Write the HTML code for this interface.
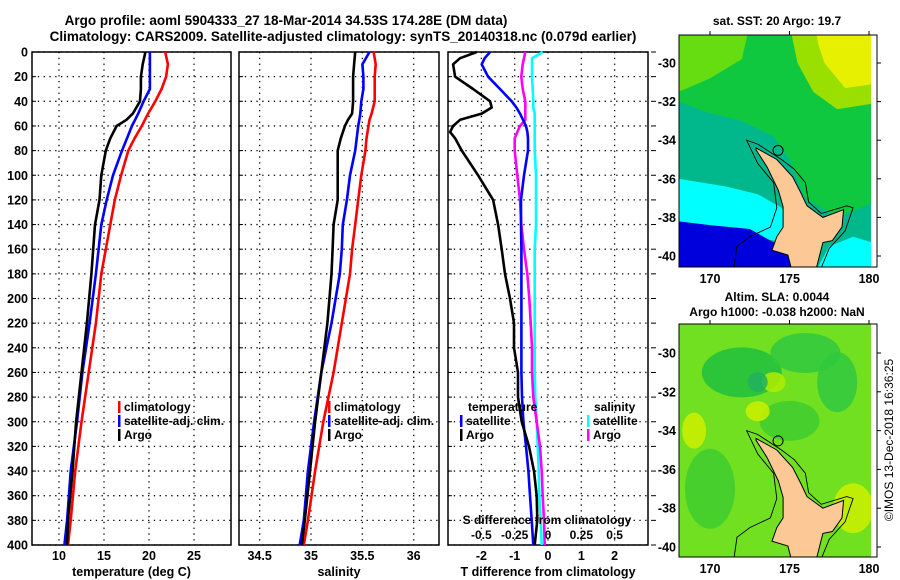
<!DOCTYPE html>
<html><head><meta charset="utf-8">
<style>
html,body{margin:0;padding:0;background:#fff;}
svg{display:block;font-family:"Liberation Sans",sans-serif;font-weight:bold;}
</style></head>
<body>
<svg id="chart" width="900" height="580" viewBox="0 0 900 580" xmlns="http://www.w3.org/2000/svg">
<rect width="900" height="580" fill="#fff"/>
<text x="286" y="25" font-size="13.5" text-anchor="middle">Argo profile: aoml 5904333_27 18-Mar-2014 34.53S 174.28E (DM data)</text>
<text x="343" y="41" font-size="13.5" text-anchor="middle">Climatology: CARS2009. Satellite-adjusted climatology: synTS_20140318.nc (0.079d earlier)</text>
<g id="g1"></g>
<g id="g2"></g>
<g id="g3"></g>
<g id="m1"></g>
<g id="m2"></g>
<text x="777" y="25" font-size="12" text-anchor="middle">sat. SST: 20 Argo: 19.7</text>
<text x="777" y="301" font-size="12" text-anchor="middle">Altim. SLA: 0.0044</text>
<text x="777" y="316" font-size="12" text-anchor="middle">Argo h1000: -0.038 h2000: NaN</text>
<text transform="translate(893,440) rotate(-90)" font-size="12" font-weight="normal" text-anchor="middle">©IMOS 13-Dec-2018 16:36:25</text>
</svg>
<script>
// ---- data ----
const depthTS = [0,10,20,30,40,50,55,60,70,80,100,120,140,160,180,220,260,300,340,380,400];
const tempClim = [21.8,22.1,21.9,21.4,20.7,19.9,19.55,19.2,18.4,17.7,16.9,16.2,15.7,15.2,14.7,14.1,13.3,12.5,11.8,11.3,11.0];
const tempSat = [20.1,20.1,20.1,20.1,19.4,18.8,18.45,18.1,17.55,17.0,16.0,15.3,14.7,14.4,14.1,13.4,12.6,12.0,11.3,10.9,10.6];
const tempArgo = [19.6,19.3,19.1,19.1,19.0,18.2,17.5,16.4,15.7,15.2,14.7,14.5,14.0,13.8,13.6,13.1,12.5,11.9,11.5,11.0,10.9];
const salClim = [35.61,35.63,35.62,35.62,35.62,35.59,35.57,35.56,35.54,35.53,35.49,35.46,35.43,35.40,35.38,35.30,35.22,35.12,35.04,34.97,34.93];
const salSat = [35.57,35.50,35.51,35.51,35.49,35.48,35.47,35.46,35.445,35.43,35.38,35.35,35.31,35.30,35.28,35.20,35.10,35.03,34.97,34.93,34.89];
const salArgo = [35.43,35.42,35.41,35.41,35.41,35.40,35.36,35.33,35.29,35.26,35.26,35.26,35.22,35.21,35.20,35.16,35.10,35.04,34.99,34.94,34.91];
const depthDiff = [0,5,10,20,30,40,45,50,55,60,65,70,80,100,120,140,160,180,200,220,240,260,280,300,320,340,360,380,400];
const tDiffArgo = [-2.14,-2.64,-2.85,-2.79,-2.25,-1.74,-1.69,-1.99,-2.64,-2.85,-2.94,-2.79,-2.59,-2.1,-1.65,-1.5,-1.39,-1.29,-1.14,-1.02,-1.02,-0.9,-0.9,-0.79,-0.57,-0.42,-0.34,-0.32,-0.4];
const tDiffSat = [-1.74,-1.9,-1.99,-1.8,-1.44,-1.09,-0.95,-0.84,-0.75,-0.66,-0.62,-0.6,-0.6,-0.72,-0.81,-0.81,-0.8,-0.8,-0.8,-0.8,-0.8,-0.8,-0.78,-0.74,-0.66,-0.59,-0.54,-0.49,-0.44];
const sDiffArgo = [-0.17,-0.18,-0.19,-0.20,-0.19,-0.17,-0.17,-0.17,-0.17,-0.21,-0.23,-0.25,-0.25,-0.23,-0.21,-0.20,-0.18,-0.155,-0.14,-0.13,-0.12,-0.12,-0.11,-0.085,-0.06,-0.047,-0.04,-0.03,-0.025];
const sDiffSat = [-0.04,-0.12,-0.12,-0.12,-0.115,-0.11,-0.11,-0.1,-0.1,-0.1,-0.1,-0.1,-0.1,-0.09,-0.09,-0.09,-0.1,-0.1,-0.1,-0.1,-0.1,-0.1,-0.095,-0.085,-0.077,-0.07,-0.065,-0.055,-0.047];
const depthTicks = [0,20,40,60,80,100,120,140,160,180,200,220,240,260,280,300,320,340,360,380,400];
const tTicks = [10,15,20,25];
const sTicks = [34.5,35,35.5,36];
const tdTicks = [-2,-1,0,1,2];
const sdTicks = [-0.5,-0.25,0,0.25,0.5];
const sdTickLabels = ["-0.5","-0.25","0","0.25","0.5"];
const lonTicks = [170,175,180];
const latTicks = [-30,-32,-34,-36,-38,-40];
const argoLon = 174.28, argoLat = -34.53;

const NS = "http://www.w3.org/2000/svg";
function mk(parent, tag, attrs, name, txt){
  const e = document.createElementNS(NS, tag);
  for (const k in attrs) e.setAttribute(k, attrs[k]);
  
  
  if (txt !== undefined) e.textContent = txt;
  parent.appendChild(e); return e;
}
const Y0 = 52, Y1 = 545;
const yD = d => Y0 + d * (Y1 - Y0) / 400;
const xT = v => 59 + (v - 10) * 9.0;
const xS = v => 311 + (v - 35) * 102.7;
const xTD = v => 548 + v * 33.3;
const xSD = v => 548 + v * 133.3;

function panel(g, x0, x1, ticks, xf, labels, showY, xlabel){
  ticks.forEach((t,i) => {
    mk(g,'line',{x1:xf(t),x2:xf(t),y1:Y0,y2:Y1,stroke:'#000','stroke-dasharray':'1.3,4.5','stroke-width':1.3},'x-grid-line');
    mk(g,'text',{x:xf(t),y:560,'font-size':12.5,'text-anchor':'middle'},'x-tick-label',labels[i]);
  });
  depthTicks.forEach(d => {
    mk(g,'line',{x1:x0,x2:x1,y1:yD(d),y2:yD(d),stroke:'#000','stroke-dasharray':'1.3,4.5','stroke-width':1.3},'y-grid-line');
    mk(g,'line',{x1:x0,x2:x0+4,y1:yD(d),y2:yD(d),stroke:'#000','stroke-width':1},'y-tick');
    if (showY) mk(g,'text',{x:28,y:yD(d)+4.5,'font-size':12.5,'text-anchor':'end'},'y-tick-label',String(d));
  });
  mk(g,'rect',{x:x0,y:Y0,width:x1-x0,height:Y1-Y0,fill:'none',stroke:'#000','stroke-width':1.5},'plot-frame');
  mk(g,'text',{x:(x0+x1)/2,y:576,'font-size':12.5,'text-anchor':'middle'},'x-axis-title',xlabel);
}
function series(g, ds, vs, xf, color, name){
  const pts = ds.map((d,i) => xf(vs[i]).toFixed(1)+','+yD(d).toFixed(1)).join(' ');
  mk(g,'polyline',{points:pts,fill:'none',stroke:color,'stroke-width':2.6,'stroke-linejoin':'round'},name);
}
function legend(g, x, y, items){
  items.forEach((it,i) => {
    mk(g,'rect',{x:x,y:y+i*14-10,width:2.5,height:12,fill:it[1]},'legend-marker');
    mk(g,'text',{x:x+6,y:y+i*14,'font-size':12},'legend-entry',it[0]);
  });
}
const g1 = document.getElementById('g1'), g2 = document.getElementById('g2'), g3 = document.getElementById('g3');
panel(g1,32,231,tTicks,xT,tTicks.map(String),true,'temperature (deg C)');
series(g1,depthTS,tempClim,xT,'#ff0000','temp-climatology-line');
series(g1,depthTS,tempSat,xT,'#0000ff','temp-satellite-line');
series(g1,depthTS,tempArgo,xT,'#000000','temp-argo-line');
legend(g1,118,411,[['climatology','#f00'],['satellite-adj. clim.','#00f'],['Argo','#000']]);

panel(g2,239,439,sTicks,xS,sTicks.map(String),false,'salinity');
series(g2,depthTS,salClim,xS,'#ff0000','sal-climatology-line');
series(g2,depthTS,salSat,xS,'#0000ff','sal-satellite-line');
series(g2,depthTS,salArgo,xS,'#000000','sal-argo-line');
legend(g2,328,411,[['climatology','#f00'],['satellite-adj. clim.','#00f'],['Argo','#000']]);

panel(g3,448,648,tdTicks,xTD,tdTicks.map(String),false,'T difference from climatology');
depthTicks.forEach(d => mk(g3,'line',{x1:651,x2:656,y1:yD(d),y2:yD(d),stroke:'#000','stroke-width':1},'right-tick'));
series(g3,depthDiff,sDiffSat,xSD,'#00ffff','sdiff-satellite-line');
series(g3,depthDiff,sDiffArgo,xSD,'#ff00ff','sdiff-argo-line');
series(g3,depthDiff,tDiffSat,xTD,'#0000ff','tdiff-satellite-line');
series(g3,depthDiff,tDiffArgo,xTD,'#000000','tdiff-argo-line');
mk(g3,'text',{x:468,y:411,'font-size':12},'legend-title-temperature','temperature');
legend(g3,460,425,[['satellite','#00f'],['Argo','#000']]);
mk(g3,'text',{x:594,y:411,'font-size':12},'legend-title-salinity','salinity');
legend(g3,587,425,[['satellite','#0ff'],['Argo','#f0f']]);
mk(g3,'text',{x:547,y:524,'font-size':12,'text-anchor':'middle'},'s-axis-title','S difference from climatology');
sdTicks.forEach((t,i) => mk(g3,'text',{x:xSD(t),y:539,'font-size':12,'text-anchor':'middle'},'s-tick-label',sdTickLabels[i]));

// ---- maps ----
const land = [[172.9,-34.4],[174.2,-35.0],[175.2,-35.9],[175.7,-36.7],[176.1,-37.4],[177.1,-38.0],[178.4,-37.6],[178.3,-38.5],[177.7,-39.2],[177.1,-39.3],[176.7,-40.6],[175.1,-40.6],[174.9,-39.95],[173.9,-39.7],[174.2,-39.0],[174.6,-38.5],[174.6,-37.45],[174.3,-36.6],[173.6,-35.4],[172.9,-34.5]];
const iso = [[171.5,-40.6],[171.7,-39.5],[172.5,-39],[173.8,-38.5],[174.2,-37.5],[174,-36.2],[173,-35.2],[172.3,-34.0],[173,-34.2],[174.5,-35.0],[175.3,-35.5],[176,-36.2],[176.2,-37.2],[177,-37.8],[178.6,-37.4],[179,-37.5],[178.5,-38.7],[177.5,-39.6],[177,-40.6]];
function drawMap(g, ytop, ybot, lat30y, pxPerLat, layers){
  const px = lon => 710 + (lon - 170) * 15.9;
  const py = lat => lat30y + (-30 - lat) * pxPerLat;
  const poly = arr => arr.map(p => px(p[0]).toFixed(1)+','+py(p[1]).toFixed(1)).join(' ');
  const cid = 'clip' + ytop;
  const defs = mk(g,'defs',{},'map-defs');
  const cp = mk(defs,'clipPath',{id:cid},'map-clip');
  mk(cp,'rect',{x:679,y:ytop,width:192,height:ybot-ytop},'clip-rect');
  const inner = mk(g,'g',{'clip-path':'url(#'+cid+')'},'map-image');
  layers(inner, px, py, poly);
  mk(inner,'polygon',{points:poly(land),fill:'#fbc896',stroke:'#000','stroke-width':1},'land-new-zealand');
  mk(inner,'polyline',{points:poly(iso),fill:'none',stroke:'#000','stroke-width':0.9},'isobath-line');
  mk(g,'circle',{cx:px(argoLon),cy:py(argoLat),r:5,fill:'none',stroke:'#000','stroke-width':1},'argo-location-marker');
  mk(g,'rect',{x:679,y:ytop,width:198,height:ybot-ytop,fill:'none',stroke:'#000','stroke-width':1},'map-frame');
  lonTicks.forEach(l => {
    mk(g,'line',{x1:px(l),x2:px(l),y1:ytop,y2:ytop-4,stroke:'#000'},'lon-tick');
    mk(g,'text',{x:px(l),y:ybot+16,'font-size':12.5,'text-anchor':'middle'},'lon-tick-label',String(l));
  });
  latTicks.forEach(l => {
    mk(g,'line',{x1:877,x2:881,y1:py(l),y2:py(l),stroke:'#000'},'lat-tick');
    mk(g,'text',{x:676,y:py(l)+4.5,'font-size':12.5,'text-anchor':'end'},'lat-tick-label',String(l));
  });
}
drawMap(document.getElementById('m1'),35,267,63,19.3,(g,px,py,poly)=>{
  mk(g,'rect',{x:679,y:35,width:192,height:232,fill:'#00b88c'},'sst-base');
  mk(g,'polygon',{points:poly([[168,-28],[181,-28],[181,-37],[178,-38],[176,-37],[175,-35],[174,-33.8],[172,-33],[170,-32.6],[168,-32]]),fill:'#10c840'},'sst-green');
  mk(g,'polygon',{points:poly([[168,-28],[172.5,-28],[172,-29.8],[170,-30.8],[168,-31.5]]),fill:'#66dd10'},'sst-lime-west');
  mk(g,'polygon',{points:poly([[175,-28],[181,-28],[181,-32],[178,-32.4],[176.5,-31.5],[175.5,-30]]),fill:'#99e000'},'sst-lime-east');
  mk(g,'polygon',{points:poly([[176.6,-28],[181,-28],[181,-31],[178.5,-31.3],[177.2,-30],[176.8,-29]]),fill:'#e6f000'},'sst-yellow');
  mk(g,'polygon',{points:poly([[168,-36],[171,-36.4],[173,-36.8],[174.5,-37.5],[175,-38.5],[174.2,-39.2],[172,-39],[170,-38.8],[168,-38.5]]),fill:'#00ffff'},'sst-cyan-west');
  mk(g,'polygon',{points:poly([[176.5,-41],[177.5,-39.5],[179,-39],[181,-39.5],[181,-41]]),fill:'#00ffff'},'sst-cyan-east');
  mk(g,'polygon',{points:poly([[168,-38.2],[170,-38.4],[172.5,-38.6],[173.8,-39.2],[174.5,-39.5],[175.5,-40.3],[175.5,-41],[168,-41]]),fill:'#0000dd'},'sst-blue');
});
drawMap(document.getElementById('m2'),324,557,353,19.4,(g,px,py,poly)=>{
  mk(g,'rect',{x:679,y:324,width:192,height:233,fill:'#70e020'},'sla-base');
  const blobs=[[172,-31,40,25,'#20c040'],[176,-30,35,20,'#30c840'],[178,-31.5,20,30,'#30c840'],[170,-37,25,40,'#40cc30'],[175,-33.5,30,20,'#40cc30'],[179,-38,20,25,'#ccf000'],[169,-34,12,18,'#ccf000'],[173,-33,12,10,'#ccf000'],[174,-31.5,12,10,'#b0ec00'],[173,-31.5,10,10,'#20b060']];
  blobs.forEach(b=>mk(g,'ellipse',{cx:px(b[0]),cy:py(b[1]),rx:b[2],ry:b[3],fill:b[4],opacity:0.85},'sla-blob'));
});
</script>
</body></html>
